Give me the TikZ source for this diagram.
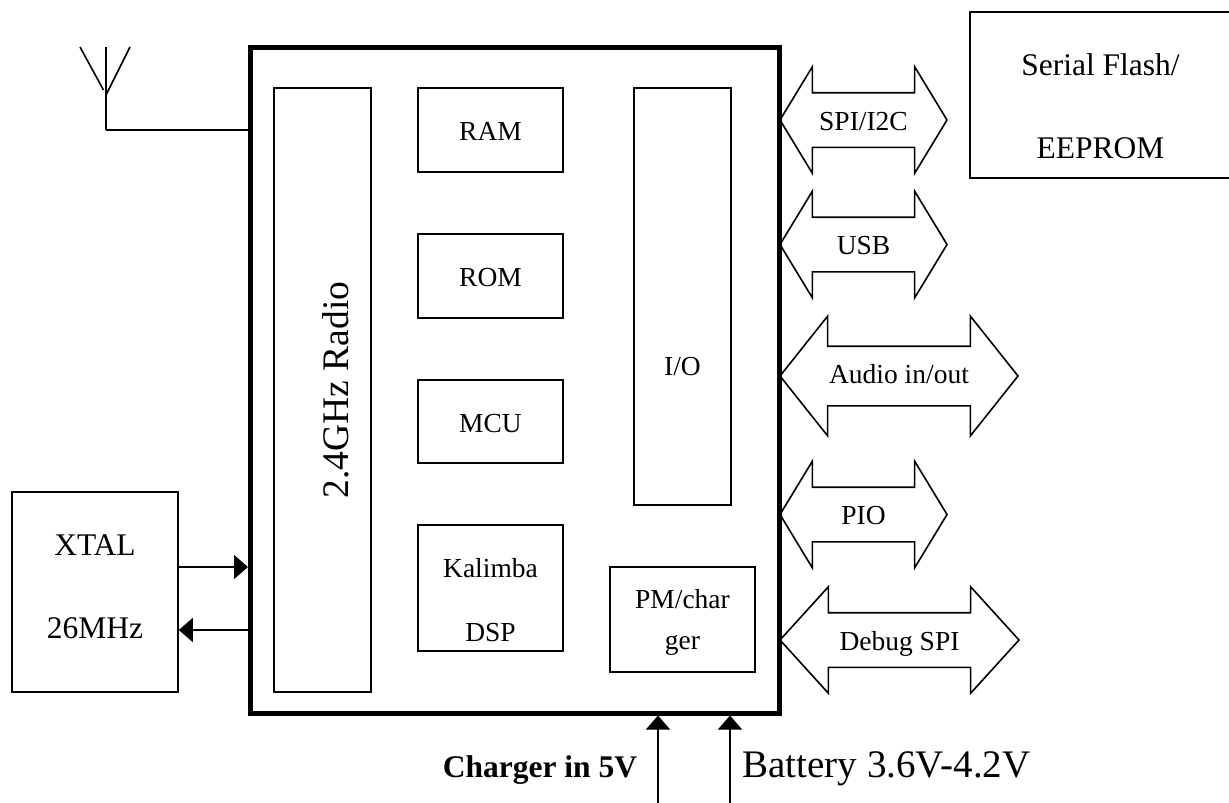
\documentclass[tikz,border=0pt]{standalone}
\usepackage{fontspec}
\setmainfont{Liberation Serif}
\usepackage{tikz}
\usetikzlibrary{arrows.meta}
\usetikzlibrary{shapes.arrows}

\tikzset{
   block/.style={rectangle, draw, line width=1.6pt, inner sep=0pt, align=center,
      text height=20pt, text depth=0pt,
      font=\fontsize{27.5}{41}\selectfont},
   bigblock/.style={block, font=\fontsize{31.5}{83}\selectfont},
   port/.style={double arrow, draw, line width=1.6pt, inner xsep=0pt, inner ysep=16.5pt,
      text height=20pt, text depth=0pt, minimum width=105pt,
      double arrow head extend=26pt, double arrow head indent=0pt,
      double arrow tip angle=117.5,
      font=\fontsize{27.5}{33}\selectfont},
   sigline/.style={line width=1.6pt},
   sigarrow/.style={line width=1.6pt, -{Triangle[length=14pt, width=24pt]}}
}

\begin{document}
\begin{tikzpicture}[x=1pt, y=-1pt]
      \useasboundingbox (0,0) rectangle (1229,803);

      \node (chip) at (514.75,380) [rectangle, draw, line width=5pt, inner sep=0pt,
         minimum width=528.5pt, minimum height=666pt] {};

      \node (radio) at (322.5,390) [block, minimum width=97pt, minimum height=604pt] {};
      \node (radiotext) at (348.5,390) [anchor=base, rotate=90, inner sep=0pt,
         font=\fontsize{37.5}{45}\selectfont] {2.4GHz Radio};
      \node (ram) at (490.5,130) [block, minimum width=145pt, minimum height=84pt] {RAM};
      \node (rom) at (490.5,276) [block, minimum width=145pt, minimum height=84pt] {ROM};
      \node (mcu) at (490.5,421.5) [block, minimum width=145pt, minimum height=83pt, text height=21pt] {MCU};
      \node (dsp) at (490.5,588) [block, minimum width=145pt, minimum height=126pt, text height=106pt,
         font=\fontsize{27.5}{64}\selectfont] {Kalimba\\DSP};
      \node (io) at (682.5,296.5) [block, minimum width=97pt, minimum height=417pt, text height=157pt] {I/O};
      \node (pm) at (682.5,619.5) [block, minimum width=145pt, minimum height=105pt, text height=59pt] {PM/char\\ger};

      \node (flash) at (1100.5,95) [bigblock, minimum width=261pt, minimum height=166pt, text height=126pt] {Serial Flash/\\EEPROM};
      \node (xtal) at (95,592) [bigblock, minimum width=166pt, minimum height=200pt, text height=92pt] {XTAL\\26MHz};

      \node (spi) at (863.5,120) [port, minimum height=167pt] {SPI/I2C};
      \node (usb) at (863.5,244.5) [port, minimum height=167pt] {USB};
      \node (audio) at (899,376) [port, minimum height=238pt, minimum width=118pt, inner ysep=22pt,
         text height=14pt, double arrow head extend=30pt, double arrow tip angle=103] {Audio in/out};
      \node (pio) at (863.5,514.5) [port, minimum height=167pt] {PIO};
      \node (debug) at (899.5,640) [port, minimum height=239pt, double arrow tip angle=95.5] {Debug SPI};

      % antenna
      \coordinate (anttop) at (106,47);
      \coordinate (antbase) at (106,130);
      \coordinate (antleft) at (80,47);
      \coordinate (antleftend) at (103.5,90);
      \coordinate (antright) at (130,47);
      \coordinate (antrightend) at (106,95);
      \draw [sigline] (anttop) -- (antbase);
      \draw [sigline] (antleft) -- (antleftend);
      \draw [sigline] (antright) -- (antrightend);
      \draw [sigline] (antbase) -- (antbase -| chip.west);

      % crystal
      \coordinate (xtalout) at (178,567);
      \coordinate (xtalin) at (250,630);
      \draw [sigarrow] (xtalout) -- (xtalout -| chip.west);
      \draw [sigarrow] (xtalin) -- (xtalin -| xtal.east);

      % supply
      \coordinate (chargefoot) at (658,803);
      \coordinate (batfoot) at (730,803);
      \draw [sigarrow] (chargefoot) -- (chargefoot |- chip.south);
      \draw [sigarrow] (batfoot) -- (batfoot |- chip.south);
      \node (chargetext) at (540,777) [anchor=base, font=\fontsize{31.5}{38}\selectfont\bfseries] {Charger in 5V};
      \node (battext) at (886.5,777) [anchor=base, font=\fontsize{39}{47}\selectfont] {Battery 3.6V-4.2V};
\end{tikzpicture}
\end{document}
